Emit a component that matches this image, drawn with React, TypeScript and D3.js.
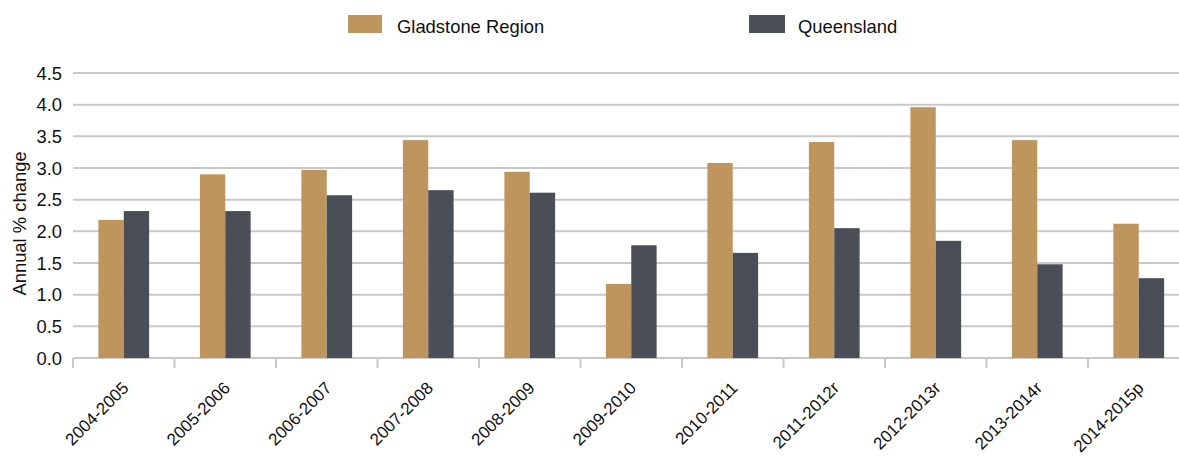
import React from "react";
import * as d3 from "d3";

const categories = [
  "2004-2005", "2005-2006", "2006-2007", "2007-2008", "2008-2009", "2009-2010",
  "2010-2011", "2011-2012r", "2012-2013r", "2013-2014r", "2014-2015p",
];
const gladstone = [2.18, 2.9, 2.97, 3.44, 2.94, 1.17, 3.08, 3.41, 3.96, 3.44, 2.12];
const queensland = [2.32, 2.32, 2.57, 2.65, 2.61, 1.78, 1.66, 2.05, 1.85, 1.48, 1.26];
const yTicks = [0, 0.5, 1, 1.5, 2, 2.5, 3, 3.5, 4, 4.5];
const seriesNames = ["Gladstone Region", "Queensland"];
const colors = ["#BE955C", "#4A4F57"];

const W = 1179;
const H = 456;
const left = 73;
const bottom = 358;
const top = 73;
const fs = 18.4;
const xfs = 17;
const font = "Arial, 'Liberation Sans', sans-serif";

export default function App() {
  const x = d3.scaleBand<string>().domain(categories).range([left, left + 101.5 * 11]).paddingInner(0.5).paddingOuter(0.25);
  const step = x.step();
  const inner = d3.scaleBand<number>().domain([0, 1]).range([0, x.bandwidth()]);
  const y = d3.scaleLinear().domain([0, 4.5]).range([bottom, top]);
  const series = [gladstone, queensland];

  return (
    <svg width={W} height={H} style={{ position: "absolute", left: 0, top: 0, background: "#fff" }} fontFamily={font}>
      {/* legend */}
      <rect x={348} y={15} width={34} height={18} fill={colors[0]} />
      <text x={397} y={33} fontSize={fs} fill="#111">{seriesNames[0]}</text>
      <rect x={749} y={15} width={36} height={18} fill={colors[1]} />
      <text x={798} y={33} fontSize={fs} fill="#111">{seriesNames[1]}</text>

      {/* grid */}
      {yTicks.map((t) => (
        <g key={t}>
          <line x1={left} x2={W} y1={y(t)} y2={y(t)} stroke="#c8c8c8" strokeWidth={2} />
          <text x={62} y={y(t) + 6.6} fontSize={fs} textAnchor="end" fill="#111">{t.toFixed(1)}</text>
        </g>
      ))}
      {/* x ticks */}
      {categories.map((c) => (
        <line key={"t" + c} x1={x(c)! - step * 0.25} x2={x(c)! - step * 0.25} y1={bottom} y2={bottom + 10} stroke="#c8c8c8" strokeWidth={2} />
      ))}

      {/* bars */}
      {series.map((s, si) =>
        s.map((v, i) => (
          <rect key={si + "-" + i} x={x(categories[i])! + inner(si)!} y={y(v)} width={inner.bandwidth()} height={bottom - y(v)} fill={colors[si]} />
        ))
      )}

      {/* x labels */}
      {categories.map((c) => {
        const cx = x(c)! + x.bandwidth() / 2 + 6;
        return (
          <text key={"l" + c} transform={`translate(${cx},${389}) rotate(-45)`} textAnchor="end" fontSize={xfs} fill="#111">{c}</text>
        );
      })}

      <text transform={`translate(26,223.5) rotate(-90)`} textAnchor="middle" fontSize={fs} fill="#111">Annual % change</text>
    </svg>
  );
}
